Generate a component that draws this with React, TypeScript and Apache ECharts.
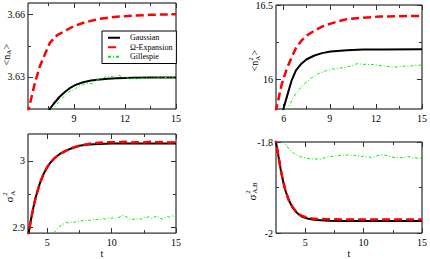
import React, { useEffect, useRef } from 'react';
import * as echarts from 'echarts';

const FONT = '"Liberation Serif", "DejaVu Serif", serif';
const TICK = '#333';

// ---------- Panel 1: <n_A> ----------
const p1Gaussian: [number, number][] = [
  [7.5, 3.6125], [7.58, 3.6146], [7.8, 3.617], [8.16, 3.6205], [8.5, 3.623], [8.75, 3.6246],
  [9.1, 3.6262], [9.54, 3.6275], [10.0, 3.6283], [10.52, 3.6288], [11.0, 3.6292], [11.5, 3.6294],
  [12.46, 3.6296], [13.5, 3.6297], [15, 3.6297],
];
const p1Omega: [number, number][] = [
  [6.25, 3.612], [6.34, 3.6146], [6.5, 3.62], [6.7, 3.627], [6.99, 3.635], [7.3, 3.641],
  [7.58, 3.6464], [8.0, 3.65], [8.56, 3.6526], [9.0, 3.6545], [9.52, 3.656], [10.5, 3.658],
  [11.5, 3.659], [12.46, 3.6595], [13.5, 3.6599], [15, 3.6602],
];
const p1Gillespie: [number, number][] = [
  [7.7, 3.614], [7.9, 3.6158], [8.1, 3.618], [8.3, 3.6198], [8.5, 3.6212], [8.7, 3.6228],
  [8.9, 3.6235], [9.1, 3.6245], [9.3, 3.6256], [9.5, 3.6262], [9.7, 3.6268], [9.9, 3.627],
  [10.1, 3.6266], [10.3, 3.6284], [10.5, 3.6288], [10.7, 3.6294], [10.9, 3.6302], [11.1, 3.6305],
  [11.3, 3.63], [11.5, 3.631], [11.7, 3.6306], [11.9, 3.6299], [12.1, 3.6296], [12.3, 3.6291],
  [12.5, 3.6294], [12.7, 3.629], [12.9, 3.6297], [13.1, 3.6293], [13.3, 3.6298], [13.5, 3.6292],
  [13.7, 3.6299], [13.9, 3.6294], [14.1, 3.63], [14.3, 3.6295], [14.5, 3.6301], [14.7, 3.6296],
  [14.9, 3.6302], [15.0, 3.63],
];

// ---------- Panel 2: <n^2_A> ----------
const p2Gaussian: [number, number][] = [
  [5.9, 15.77], [5.98, 15.8], [6.2, 15.88], [6.52, 15.993], [6.8, 16.06], [7.15, 16.105],
  [7.5, 16.135], [8.0, 16.16], [8.5, 16.176], [9.06, 16.187], [10.12, 16.195], [11.18, 16.2],
  [12.5, 16.201], [15, 16.202],
];
const p2Omega: [number, number][] = [
  [5.45, 15.78], [5.52, 15.8], [5.7, 15.885], [5.88, 15.97], [6.2, 16.07], [6.52, 16.149],
  [6.8, 16.21], [7.15, 16.26], [7.5, 16.295], [8.0, 16.327], [8.5, 16.355], [9.06, 16.375],
  [9.6, 16.392], [10.12, 16.405], [11.18, 16.415], [12.24, 16.422], [13.5, 16.425], [15, 16.427],
];
const p2Gillespie: [number, number][] = [
  [6.2, 15.79], [6.4, 15.83], [6.6, 15.87], [6.8, 15.905], [7.0, 15.93], [7.2, 15.955],
  [7.4, 15.975], [7.6, 15.99], [7.8, 16.01], [8.0, 16.02], [8.2, 16.035], [8.4, 16.045],
  [8.6, 16.05], [8.8, 16.06], [9.0, 16.062], [9.2, 16.07], [9.4, 16.068], [9.6, 16.075],
  [9.8, 16.078], [10.0, 16.08], [10.2, 16.085], [10.4, 16.09], [10.6, 16.098], [10.8, 16.106],
  [11.0, 16.103], [11.2, 16.1], [11.4, 16.102], [11.6, 16.098], [11.8, 16.1], [12.0, 16.096],
  [12.2, 16.093], [12.4, 16.09], [12.6, 16.088], [12.8, 16.085], [13.0, 16.082], [13.2, 16.084],
  [13.4, 16.081], [13.6, 16.085], [13.8, 16.088], [14.0, 16.09], [14.2, 16.087], [14.4, 16.092],
  [14.6, 16.095], [14.8, 16.094], [15.0, 16.097],
];

// ---------- Panel 3: sigma^2_A ----------
const p3Gaussian: [number, number][] = [
  [3.4, 2.88], [3.55, 2.891], [3.7, 2.908], [3.9, 2.928], [4.1, 2.945], [4.4, 2.965],
  [4.7, 2.98], [5.0, 2.991], [5.3, 2.999], [5.6, 3.005], [6.0, 3.011], [6.5, 3.016],
  [7.0, 3.02], [7.5, 3.023], [8.0, 3.0245], [9.0, 3.0258], [10.0, 3.0263], [11, 3.0265],
  [12, 3.0266], [15, 3.0266],
];
const p3Omega: [number, number][] = [
  [3.4, 2.88], [3.55, 2.891], [3.7, 2.908], [3.9, 2.928], [4.1, 2.945], [4.4, 2.965],
  [4.7, 2.98], [5.0, 2.991], [5.3, 2.999], [5.6, 3.005], [6.0, 3.011], [6.5, 3.016],
  [7.0, 3.02], [7.5, 3.023], [8.0, 3.025], [8.5, 3.027], [9.0, 3.0275], [9.5, 3.028],
  [10, 3.0285], [10.5, 3.028], [11, 3.029], [11.5, 3.028], [12, 3.0285], [12.5, 3.028],
  [13, 3.029], [13.5, 3.0285], [14, 3.0288], [14.5, 3.028], [15, 3.0285],
];
const p3Gillespie: [number, number][] = [
  [5.5, 2.891], [5.7, 2.896], [5.9, 2.9], [6.1, 2.903], [6.3, 2.905], [6.5, 2.907],
  [6.7, 2.906], [6.9, 2.908], [7.1, 2.907], [7.3, 2.909], [7.5, 2.908], [7.7, 2.91],
  [7.9, 2.909], [8.1, 2.911], [8.3, 2.91], [8.5, 2.912], [8.7, 2.911], [8.9, 2.912],
  [9.1, 2.911], [9.3, 2.913], [9.5, 2.912], [9.7, 2.914], [9.9, 2.913], [10.1, 2.914],
  [10.3, 2.912], [10.5, 2.914], [10.7, 2.916], [10.9, 2.918], [11.1, 2.916], [11.3, 2.914],
  [11.5, 2.911], [11.7, 2.912], [11.9, 2.911], [12.1, 2.913], [12.3, 2.912], [12.5, 2.915],
  [12.7, 2.914], [12.9, 2.916], [13.1, 2.913], [13.3, 2.915], [13.5, 2.917], [13.7, 2.914],
  [13.9, 2.912], [14.1, 2.914], [14.3, 2.916], [14.5, 2.915], [14.7, 2.917], [14.9, 2.916],
  [15.0, 2.918],
];

// ---------- Panel 4: sigma^2_A,B ----------
const p4Gaussian: [number, number][] = [
  [2.4, -1.785], [2.5, -1.8], [2.7, -1.83], [2.9, -1.86], [3.1, -1.885], [3.3, -1.906],
  [3.6, -1.928], [3.9, -1.943], [4.2, -1.953], [4.5, -1.96], [4.8, -1.965], [5.2, -1.968],
  [5.6, -1.97], [6.0, -1.9715], [7, -1.9728], [8, -1.9733], [10, -1.9735], [15, -1.9735],
];
const p4Omega: [number, number][] = [
  [2.4, -1.785], [2.5, -1.8], [2.7, -1.83], [2.9, -1.86], [3.1, -1.885], [3.3, -1.906],
  [3.6, -1.928], [3.9, -1.942], [4.2, -1.952], [4.5, -1.959], [4.8, -1.963], [5.2, -1.966],
  [5.6, -1.968], [6.0, -1.969], [7, -1.9695], [8, -1.97], [10, -1.97], [12, -1.97], [15, -1.97],
];
const p4Gillespie: [number, number][] = [
  [3.05, -1.795], [3.2, -1.801], [3.4, -1.808], [3.6, -1.815], [3.8, -1.82], [4.0, -1.824],
  [4.2, -1.827], [4.4, -1.83], [4.6, -1.832], [4.8, -1.834], [5.0, -1.835], [5.2, -1.836],
  [5.4, -1.837], [5.6, -1.837], [5.8, -1.838], [6.0, -1.837], [6.2, -1.838], [6.4, -1.837],
  [6.6, -1.835], [6.8, -1.834], [7.0, -1.832], [7.2, -1.831], [7.4, -1.832], [7.6, -1.83],
  [7.8, -1.831], [8.0, -1.829], [8.2, -1.83], [8.4, -1.828], [8.6, -1.829], [8.8, -1.828],
  [9.0, -1.83], [9.2, -1.829], [9.4, -1.831], [9.6, -1.83], [9.8, -1.832], [10.0, -1.831],
  [10.2, -1.833], [10.4, -1.832], [10.6, -1.834], [10.8, -1.833], [11.0, -1.832], [11.2, -1.83],
  [11.4, -1.829], [11.6, -1.828], [11.8, -1.829], [12.0, -1.83], [12.2, -1.832], [12.4, -1.833],
  [12.6, -1.834], [12.8, -1.833], [13.0, -1.835], [13.2, -1.834], [13.4, -1.835], [13.6, -1.833],
  [13.8, -1.832], [14.0, -1.833], [14.2, -1.835], [14.4, -1.834], [14.6, -1.836], [14.8, -1.835],
  [15.0, -1.836],
];

// ---------- Axis ticks ----------
const p1XMajor = [9, 12, 15];
const p1XMinor = [7.5, 10.5, 13.5];
const p1YMajor = [3.63, 3.66];
const p1YMinor = [3.645];
const p2XMajor = [6, 9, 12, 15];
const p2XMinor = [7.5, 10.5, 13.5];
const p2YMajor = [16, 16.5];
const p2YMinor = [16.25];
const p3XMajor = [5, 10, 15];
const p3XMinor = [7.5, 12.5];
const p3YMajor = [2.9, 3];
const p3YMinor = [2.95];
const p4XMajor = [5, 10, 15];
const p4XMinor = [7.5, 12.5];
const p4YMajor = [-2, -1.8];
const p4YMinor = [-1.9];

const SERIES_NAMES = ['Gaussian', 'Ω-Expansion', 'Gillespie'];

function xAxes(gi: number, min: number, max: number, major: number[], minor: number[], name?: string) {
  const base = {
    type: 'value', gridIndex: gi, min, max,
    splitLine: { show: false }, axisLine: { show: false },
  };
  const lbl = { show: false };
  return [
    {
      ...base, position: 'bottom',
      axisTick: { show: true, inside: true, length: 5, customValues: major, lineStyle: { color: TICK } },
      axisLabel: { show: true, customValues: major, margin: 4, fontSize: 10, fontFamily: FONT, color: '#000' },
      name: name || '', nameLocation: 'middle', nameGap: 11,
      nameTextStyle: { fontSize: 10, fontFamily: FONT, color: '#000' },
    },
    { ...base, position: 'bottom', axisTick: { show: true, inside: true, length: 3, customValues: minor, lineStyle: { color: TICK } }, axisLabel: lbl },
    { ...base, position: 'top', axisTick: { show: true, inside: true, length: 5, customValues: major, lineStyle: { color: TICK } }, axisLabel: lbl },
    { ...base, position: 'top', axisTick: { show: true, inside: true, length: 3, customValues: minor, lineStyle: { color: TICK } }, axisLabel: lbl },
  ];
}

function yAxes(gi: number, min: number, max: number, major: number[], minor: number[]) {
  const base = {
    type: 'value', gridIndex: gi, min, max,
    splitLine: { show: false }, axisLine: { show: false },
  };
  const lbl = { show: false };
  return [
    {
      ...base, position: 'left',
      axisTick: { show: true, inside: true, length: 5, customValues: major, lineStyle: { color: TICK } },
      axisLabel: { show: true, customValues: major, margin: 3, fontSize: 10, fontFamily: FONT, color: '#000' },
    },
    { ...base, position: 'left', axisTick: { show: true, inside: true, length: 3, customValues: minor, lineStyle: { color: TICK } }, axisLabel: lbl },
    { ...base, position: 'right', axisTick: { show: true, inside: true, length: 5, customValues: major, lineStyle: { color: TICK } }, axisLabel: lbl },
    { ...base, position: 'right', axisTick: { show: true, inside: true, length: 3, customValues: minor, lineStyle: { color: TICK } }, axisLabel: lbl },
  ];
}

function panelSeries(gi: number, g: [number, number][], o: [number, number][], s: [number, number][]) {
  const common = { type: 'line', xAxisIndex: gi * 4, yAxisIndex: gi * 4, symbol: 'none', showSymbol: false, clip: true, silent: true };
  return [
    { ...common, name: SERIES_NAMES[0], data: g, lineStyle: { color: '#000', width: 2 }, itemStyle: { color: '#000' }, z: 2 },
    { ...common, name: SERIES_NAMES[1], data: o, lineStyle: { color: '#ff0000', width: 2.5, type: [8, 4] }, itemStyle: { color: '#ff0000' }, z: 3 },
    { ...common, name: SERIES_NAMES[2], data: s, lineStyle: { color: '#00ee00', width: 1, type: [3, 2, 1, 2] }, itemStyle: { color: '#00ee00' }, z: 4 },
  ];
}

type Part = { t: string; x: number; y: number; s: number };
function yTitle(cx: number, cy: number, parts: Part[]) {
  return {
    type: 'group', x: cx, y: cy, rotation: Math.PI / 2,
    children: parts.map((p) => ({
      type: 'text', x: p.x, y: p.y,
      style: {
        text: p.t, fontSize: p.s, fontFamily: FONT, fill: '#000',
        align: 'left', verticalAlign: 'middle', textAlign: 'left', textVerticalAlign: 'middle',
      },
    })),
  };
}

export default function App() {
  const ref = useRef<HTMLDivElement>(null);
  useEffect(() => {
    if (!ref.current) return;
    const chart = echarts.init(ref.current, null, { renderer: 'svg' });
    const gridBase = { show: true, borderColor: '#000', borderWidth: 1, backgroundColor: 'transparent', containLabel: false };
    const option: any = {
      animation: false,
      backgroundColor: '#fff',
      grid: [
        { ...gridBase, left: 28, top: 3, width: 148, height: 106 },
        { ...gridBase, left: 276, top: 4, width: 149, height: 105 },
        { ...gridBase, left: 28, top: 134, width: 148, height: 104 },
        { ...gridBase, left: 276, top: 142, width: 149, height: 96 },
      ],
      xAxis: [
        ...xAxes(0, 6.3, 15, p1XMajor, p1XMinor),
        ...xAxes(1, 5.5, 15, p2XMajor, p2XMinor),
        ...xAxes(2, 3.5, 15, p3XMajor, p3XMinor, 't'),
        ...xAxes(3, 2.5, 15, p4XMajor, p4XMinor, 't'),
      ],
      yAxis: [
        ...yAxes(0, 3.6146, 3.6656, p1YMajor, p1YMinor),
        ...yAxes(1, 15.8, 16.5, p2YMajor, p2YMinor),
        ...yAxes(2, 2.8909, 3.0408, p3YMajor, p3YMinor),
        ...yAxes(3, -2, -1.8, p4YMajor, p4YMinor),
      ],
      legend: {
        data: SERIES_NAMES,
        orient: 'vertical',
        left: 102, top: 31,
        itemWidth: 12, itemHeight: 6, itemGap: 0,
        padding: [2, 4, 2, 5],
        borderColor: '#000', borderWidth: 1,
        backgroundColor: '#fff',
        itemStyle: { opacity: 0 },
        textStyle: { fontFamily: FONT, fontSize: 8, color: '#000', lineHeight: 9.5, padding: [0, 0, 0, 5] },
      },
      graphic: [
        yTitle(6, 55, [
          { t: '<n', x: -10.5, y: 0, s: 10 },
          { t: 'A', x: 0.3, y: 3, s: 7 },
          { t: '>', x: 5.5, y: 0, s: 10 },
        ]),
        yTitle(254, 61, [
          { t: '<n', x: -10.5, y: 0, s: 10 },
          { t: '2', x: 0.3, y: -3.5, s: 7 },
          { t: 'A', x: 0.3, y: 3.5, s: 7 },
          { t: '>', x: 5.5, y: 0, s: 10 },
        ]),
        yTitle(9, 196, [
          { t: 'σ', x: -6.5, y: 0, s: 11 },
          { t: '2', x: 0.3, y: -4, s: 7 },
          { t: 'A', x: 0.3, y: 3.5, s: 7 },
        ]),
        yTitle(251.5, 191, [
          { t: 'σ', x: -9.5, y: 0, s: 11 },
          { t: '2', x: -2.7, y: -4, s: 7 },
          { t: 'A,B', x: -2.7, y: 3.5, s: 7 },
        ]),
      ],
      series: [
        ...panelSeries(0, p1Gaussian, p1Omega, p1Gillespie),
        ...panelSeries(1, p2Gaussian, p2Omega, p2Gillespie),
        ...panelSeries(2, p3Gaussian, p3Omega, p3Gillespie),
        ...panelSeries(3, p4Gaussian, p4Omega, p4Gillespie),
      ],
    };
    chart.setOption(option);
    return () => chart.dispose();
  }, []);
  return (
    <div
      ref={ref}
      style={{ position: 'fixed', left: 0, top: 0, width: 430, height: 259, background: '#fff' }}
    />
  );
}
